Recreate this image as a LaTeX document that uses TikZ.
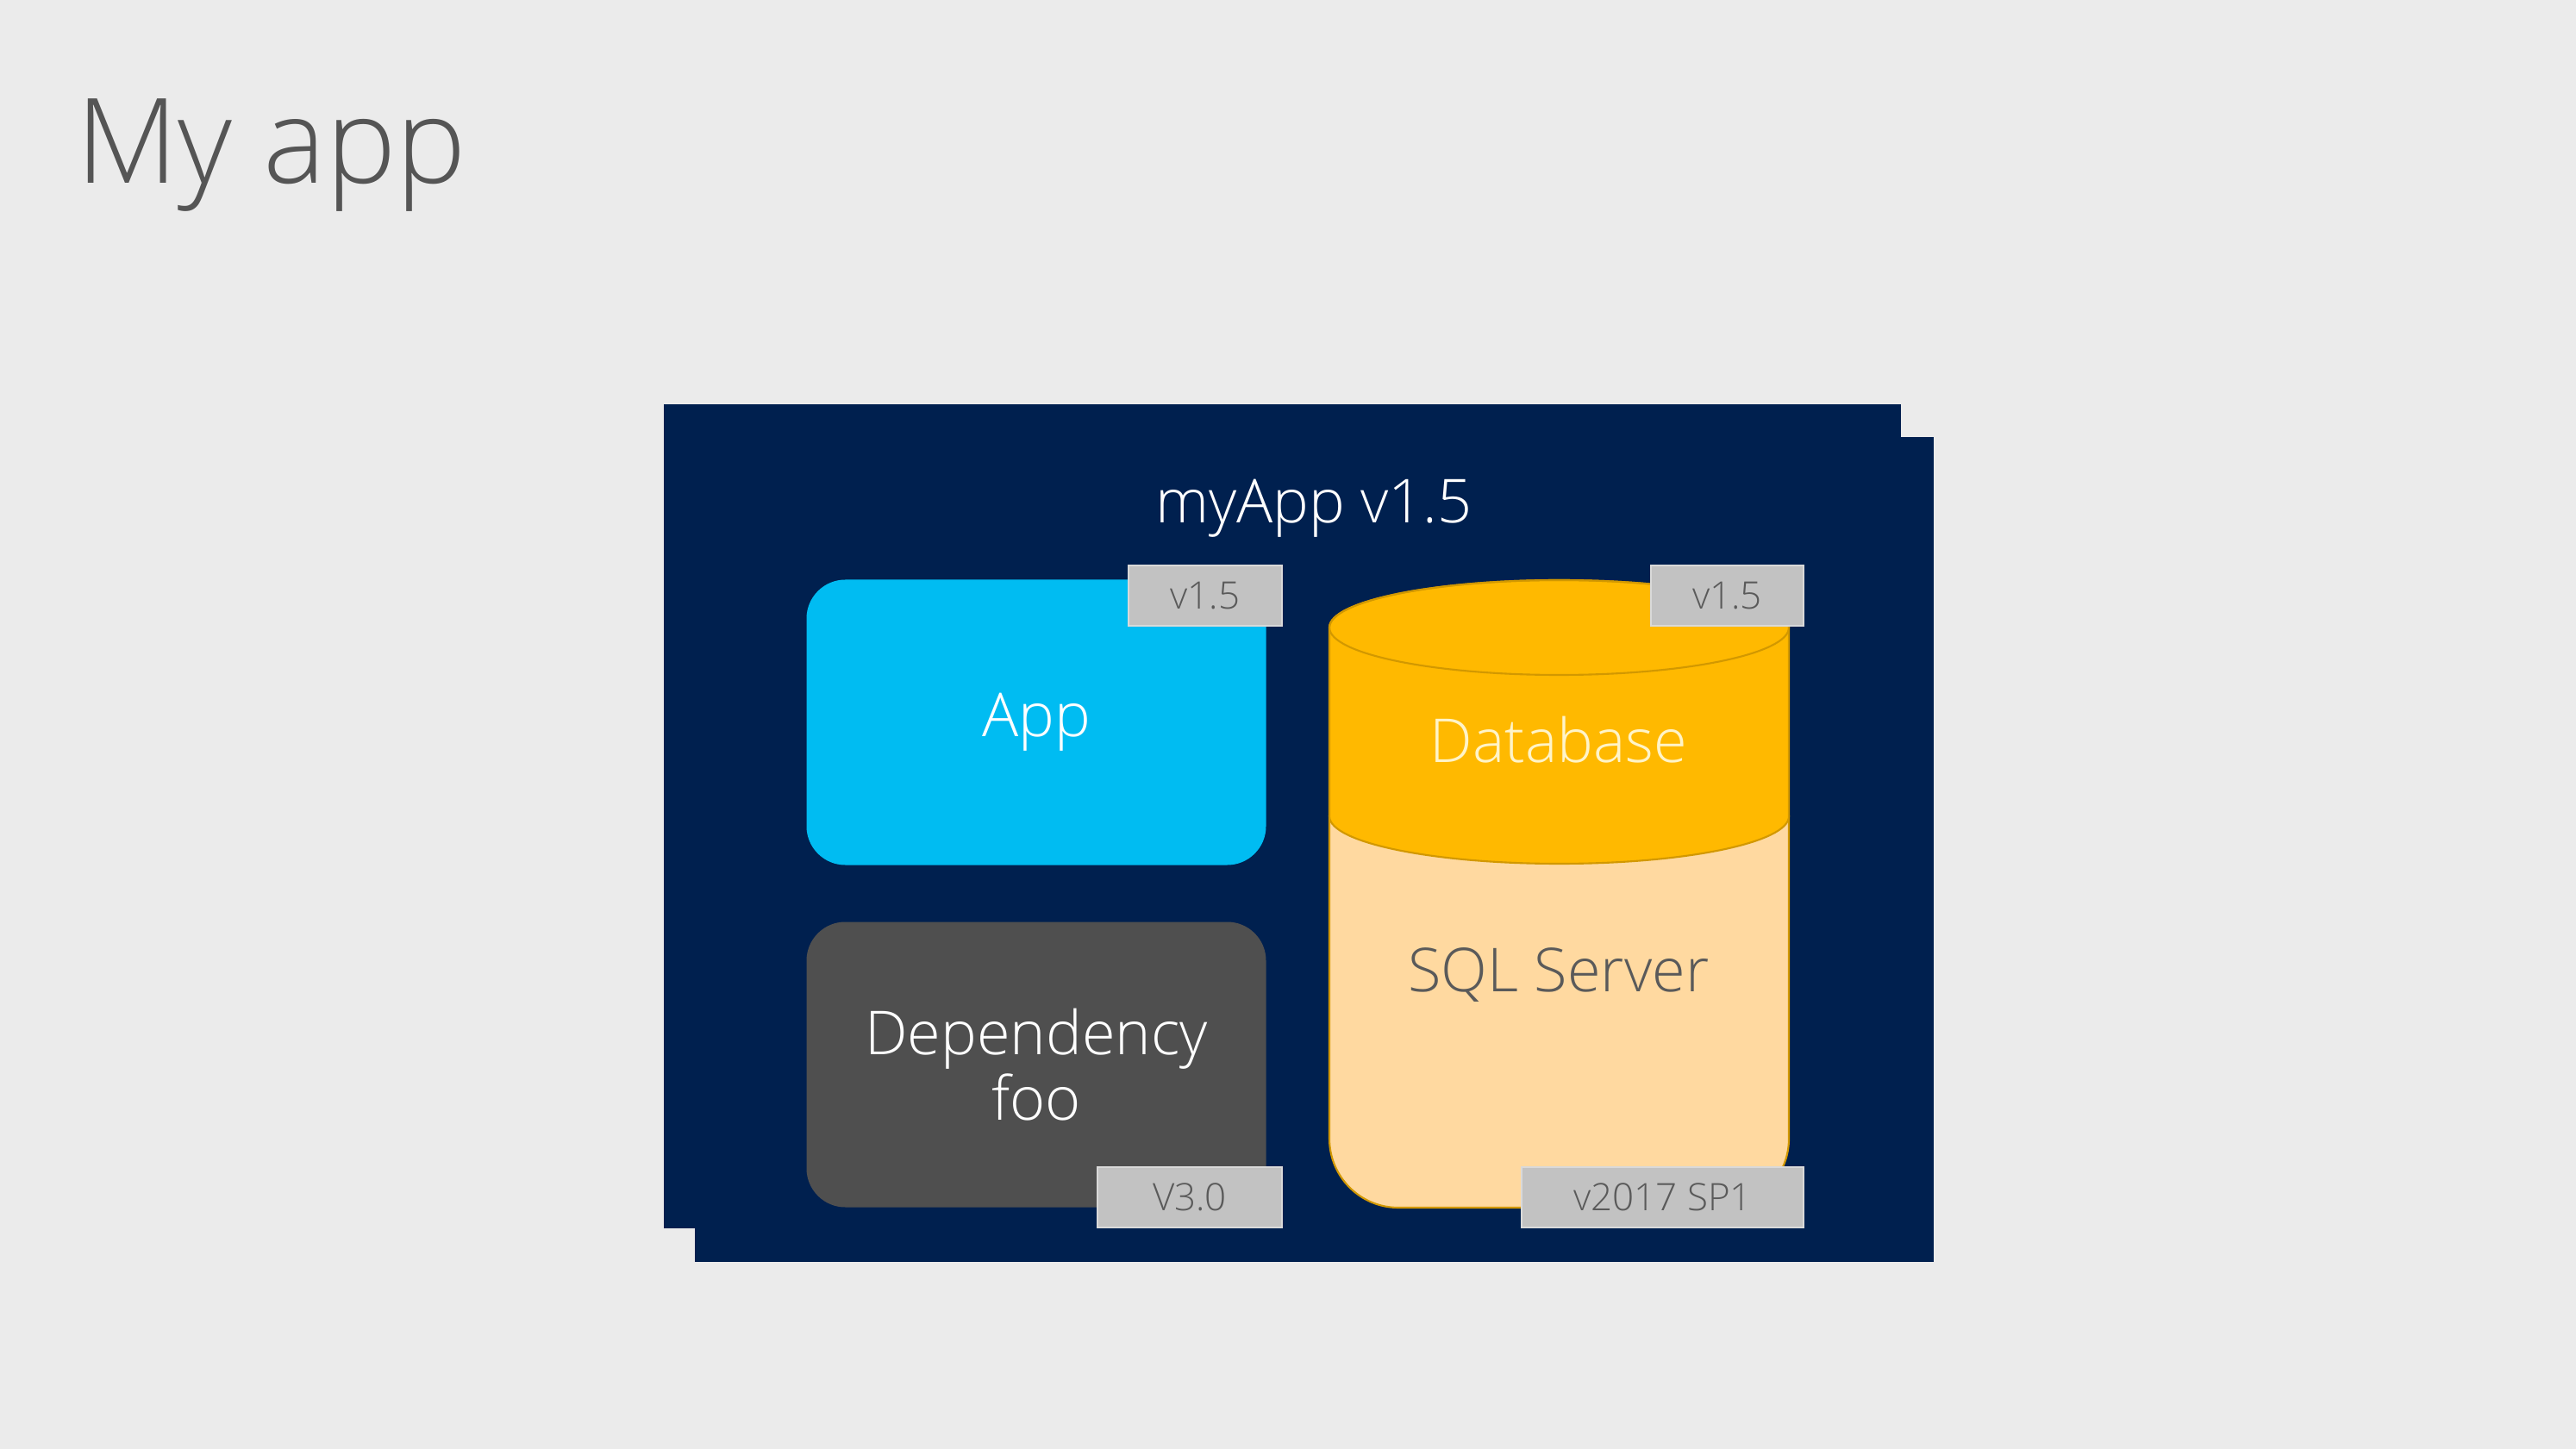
\documentclass[tikz,border=0pt]{standalone}
\usepackage{fontspec}
\setmainfont{Open Sans Light}
\usepackage{tikz}

\definecolor{slidebg}{HTML}{EBEBEB}
\definecolor{navy}{HTML}{00204F}
\definecolor{appblue}{HTML}{00BCF2}
\definecolor{depgray}{HTML}{4F4F4F}
\definecolor{dbgold}{HTML}{FFB900}
\definecolor{dbpeach}{HTML}{FFD9A0}
\definecolor{dbline}{HTML}{D29800}
\definecolor{taggray}{HTML}{C2C2C2}
\definecolor{tagedge}{HTML}{D9D9D9}
\definecolor{tagtext}{HTML}{5A5A5A}
\definecolor{titlegray}{HTML}{555555}
\definecolor{dbtext}{HTML}{FFF4C8}

\begin{document}
\begin{tikzpicture}[x=1cm, y=1cm,
    block/.style={rectangle, rounded corners=0.45cm, minimum width=5.33cm, minimum height=3.31cm, inner sep=0pt, text=white, align=center, font=\fontsize{20}{21.6}\selectfont},
    tag/.style={rectangle, fill=taggray, draw=tagedge, line width=0.8pt, minimum height=0.70cm, inner sep=0pt, text=tagtext, font=\fontsize{12.5}{15}\selectfont},
    label/.style={inner sep=0pt, font=\fontsize{20}{21.6}\selectfont}]

        % slide background
        \fill[slidebg] (0,0) rectangle (29.88,-16.81);
        \useasboundingbox (0,0) rectangle (29.88,-16.81);

        \node[inner sep=0pt, anchor=base west, text=titlegray, font=\fontsize{39}{44}\selectfont] (title) at (0.88,-2.13) {My app};

        % the two stacked navy panels
        \fill[navy] (7.70,-4.69) rectangle (22.05,-14.25);
        \fill[navy] (8.06,-5.07) rectangle (22.43,-14.64);
        \node[label, text=white] (myapp) at (15.24,-5.90) {myApp v1.5};

        % app and dependency blocks
        \node[block, fill=appblue] (app) at (12.02,-8.38) {App};
        \node[block, fill=depgray] (dep) at (12.02,-12.35) {Dependency\\foo};

        % database cylinder
        \fill[dbpeach, draw=dbline, line width=0.6pt] (15.42,-9.47) -- (15.42,-13.21) arc[start angle=180, end angle=270, radius=0.8] -- (19.95,-14.01) arc[start angle=270, end angle=360, radius=0.8] -- (20.75,-9.47) -- cycle;
        \fill[dbgold, draw=dbline, line width=0.6pt] (15.42,-7.28) -- (15.42,-9.47) arc[start angle=180, end angle=360, x radius=2.665, y radius=0.55] -- (20.75,-7.28) arc[start angle=0, end angle=180, x radius=2.665, y radius=0.55] -- cycle;
        \draw[dbline, line width=0.6pt] (18.085,-7.28) ellipse[x radius=2.665, y radius=0.55];
        \node[label, text=dbtext] (db) at (18.08,-8.58) {Database};
        \node[label, text=tagtext] (sql) at (18.08,-11.31) {SQL Server};

        % version tags
        \node[tag, minimum width=1.78cm] (tagapp) at (13.98,-6.91) {v1.5};
        \node[tag, minimum width=1.77cm] (tagdb) at (20.035,-6.91) {v1.5};
        \node[tag, minimum width=2.14cm] (tagdep) at (13.80,-13.89) {V3.0};
        \node[tag, minimum width=3.27cm] (tagsql) at (19.285,-13.89) {v2017 SP1};
\end{tikzpicture}
\end{document}
